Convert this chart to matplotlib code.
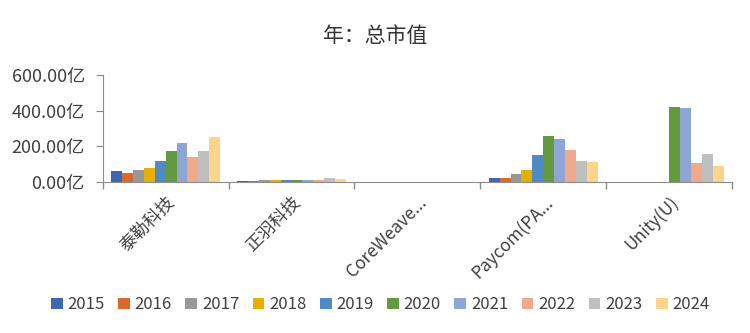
import numpy as np
import matplotlib
matplotlib.use('Agg')
import matplotlib.pyplot as plt

plt.rcParams['font.family'] = ['Noto Sans CJK SC', 'DejaVu Sans']

# Data
companies = ['泰勒科技', '正羽科技', 'CoreWeave...', 'Paycom(PA...', 'Unity(U)']
years = ['2015', '2016', '2017', '2018', '2019', '2020', '2021', '2022', '2023', '2024']
values = {
    '泰勒科技':    [63, 52, 67, 76, 119, 175, 220, 138, 175, 250],
    '正羽科技':    [5, 5, 10, 10, 10, 10, 10, 10, 22, 17],
    'CoreWeave...': [0, 0, 0, 0, 0, 0, 0, 0, 0, 0],
    'Paycom(PA...': [22, 22, 45, 67, 151, 257, 240, 179, 117, 112],
    'Unity(U)':    [0, 0, 0, 0, 0, 419, 413, 106, 156, 89],
}
colors = ['#3f66b0', '#d86b2b', '#989898', '#e5ae00', '#4f8bc2', '#639a3e',
          '#8ea6d6', '#f0a98b', '#bfbfbf', '#fdd58a']

fig = plt.figure(figsize=(7.5, 3.33), dpi=100)
ax = fig.add_axes([0.137, 0.4535, 0.839, 0.3215])

n_years = len(years)
bar_w = 0.0866
x = np.arange(len(companies))
for i, yr in enumerate(years):
    vals = [values[c][i] for c in companies]
    offs = (i - (n_years - 1) / 2) * bar_w
    ax.bar(x + offs, vals, width=bar_w, color=colors[i], label=yr, linewidth=0)

ax.set_xlim(-0.5, len(companies) - 0.5)
ax.set_ylim(0, 600)
ax.set_yticks([0, 200, 400, 600])
ax.set_yticklabels([f'{v:.2f}亿' for v in [0, 200, 400, 600]])

# category separators as tick marks
ax.set_xticks(np.arange(len(companies) + 1) - 0.5)
ax.set_xticklabels([])
ax.set_xticks(x, minor=True)
ax.set_xticklabels(companies, minor=True, rotation=45, ha='right', va='top',
                   rotation_mode='anchor')
ax.tick_params(axis='x', which='minor', length=0, pad=8, labelsize=12.5, labelcolor='#404040')
ax.tick_params(axis='x', which='major', length=5, color='#8c8c8c', width=1)
ax.tick_params(axis='y', length=5, color='#8c8c8c', labelsize=13, labelcolor='#404040', pad=8)

for s in ['top', 'right']:
    ax.spines[s].set_visible(False)
for s in ['left', 'bottom']:
    ax.spines[s].set_color('#8c8c8c')

fig.suptitle('年：总市值', y=0.925, fontsize=15, color='#333333')

fig.legend(loc='center', bbox_to_anchor=(0.507, 0.085), ncol=10, frameon=False,
           fontsize=12, handlelength=0.7, handleheight=0.7, handletextpad=0.3,
           columnspacing=0.8, labelcolor='#404040')

fig.savefig('out.png', dpi=100)
